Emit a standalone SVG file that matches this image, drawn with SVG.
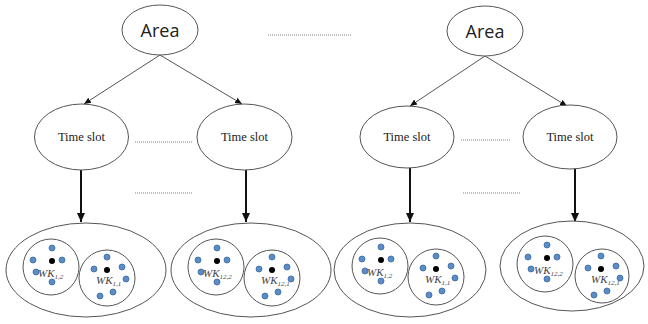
<svg xmlns="http://www.w3.org/2000/svg" width="648" height="324" viewBox="0 0 648 324">
<style>
.node{fill:#fff;stroke:#555;stroke-width:1}
.area{font-family:"Open Sans","Liberation Sans",sans-serif;font-size:18px;fill:#222;text-anchor:middle}
.ts{font-family:'Liberation Serif','DejaVu Serif',serif;font-size:12.5px;fill:#222;text-anchor:middle}
.thin{stroke:#555;stroke-width:1;fill:none}
.thick{stroke:#111;stroke-width:2;fill:none}
.dot{stroke:#666;stroke-width:0.8;stroke-dasharray:1 1;fill:none}
.b{fill:#5b8cc8;stroke:#3a6a9e;stroke-width:0.8}
.k{fill:#000}
.wk{font-family:'Liberation Serif','DejaVu Serif',serif;font-style:italic;font-weight:normal;font-size:11px;fill:#444}
.sub{font-size:7px}
</style>
<defs>
<marker id="ah" markerWidth="8" markerHeight="8" refX="7" refY="4" orient="auto" markerUnits="userSpaceOnUse"><path d="M0,1 L7,4 L0,7 Z" fill="#111"/></marker>
<marker id="ahk" markerWidth="10" markerHeight="10" refX="9" refY="5" orient="auto" markerUnits="userSpaceOnUse"><path d="M0,1 L9,5 L0,9 Z" fill="#111"/></marker>
<g id="cl1">
<circle class="b" cx="0" cy="-13" r="3"/><circle class="b" cx="10" cy="-1" r="3"/><circle class="b" cx="-19" cy="-1" r="3"/><circle class="b" cx="-16" cy="11" r="3"/><circle class="b" cx="0" cy="21" r="3"/><circle class="k" cx="0" cy="0" r="3"/>
</g>
<g id="cl2">
<circle class="b" cx="0" cy="-13" r="3"/><circle class="b" cx="-13" cy="-1" r="3"/><circle class="b" cx="15" cy="-3" r="3"/><circle class="b" cx="19" cy="9" r="3"/><circle class="b" cx="-7" cy="26" r="3"/><circle class="b" cx="6" cy="22" r="3"/><circle class="k" cx="0" cy="0" r="3"/>
</g>
</defs>
<g id="connectors">
<line class="thin" x1="160" y1="55" x2="84" y2="104" marker-end="url(#ah)"/>
<line class="thin" x1="160" y1="55" x2="242" y2="104" marker-end="url(#ah)"/>
<line class="thin" x1="485" y1="56" x2="410" y2="106" marker-end="url(#ah)"/>
<line class="thin" x1="485" y1="56" x2="567" y2="106" marker-end="url(#ah)"/>
<line class="thick" x1="81" y1="170" x2="81" y2="222" marker-end="url(#ahk)"/>
<line class="thick" x1="246" y1="170" x2="246" y2="222" marker-end="url(#ahk)"/>
<line class="thick" x1="410" y1="168" x2="410" y2="222" marker-end="url(#ahk)"/>
<line class="thick" x1="575" y1="169" x2="575" y2="222" marker-end="url(#ahk)"/>
<line class="dot" x1="268" y1="35" x2="352" y2="35"/>
<line class="dot" x1="135" y1="142" x2="192" y2="142"/>
<line class="dot" x1="135" y1="193" x2="192" y2="193"/>
<line class="dot" x1="461" y1="140" x2="510" y2="140"/>
<line class="dot" x1="463" y1="193" x2="520" y2="193"/>
</g>
<g id="area1"><ellipse class="node" cx="160" cy="30" rx="38" ry="25"/><text class="area" x="160" y="37">Area</text></g>
<g id="area2"><ellipse class="node" cx="485" cy="31" rx="38" ry="25"/><text class="area" x="485" y="38">Area</text></g>
<g id="ts1"><ellipse class="node" cx="81.5" cy="137" rx="47" ry="33"/><text class="ts" x="81.5" y="141">Time slot</text></g>
<g id="ts2"><ellipse class="node" cx="244.5" cy="137" rx="47.5" ry="33"/><text class="ts" x="244.5" y="141">Time slot</text></g>
<g id="ts3"><ellipse class="node" cx="407" cy="137" rx="47" ry="31"/><text class="ts" x="407" y="141">Time slot</text></g>
<g id="ts4"><ellipse class="node" cx="570" cy="137" rx="47" ry="32"/><text class="ts" x="570" y="141">Time slot</text></g>
<g id="cluster1">
<ellipse class="node" cx="86" cy="270" rx="80" ry="47"/>
<circle class="node" cx="51" cy="267" r="28"/><circle class="node" cx="107" cy="278" r="28"/>
<use href="#cl1" x="52" y="261"/><use href="#cl2" x="107" y="270"/>
<text class="wk" x="38" y="277">WK<tspan class="sub" dy="2">1,2</tspan></text>
<text class="wk" x="96" y="284">WK<tspan class="sub" dy="2">1,1</tspan></text>
</g>
<g id="cluster2">
<ellipse class="node" cx="251" cy="270" rx="80" ry="47"/>
<circle class="node" cx="216" cy="267" r="28"/><circle class="node" cx="272" cy="278" r="28"/>
<use href="#cl1" x="217" y="261"/><use href="#cl2" x="272" y="270"/>
<text class="wk" x="203" y="277">WK<tspan class="sub" dy="2">12,2</tspan></text>
<text class="wk" x="261" y="284">WK<tspan class="sub" dy="2">12,1</tspan></text>
</g>
<g id="cluster3">
<ellipse class="node" cx="410" cy="270" rx="76" ry="47"/>
<circle class="node" cx="380" cy="266" r="28"/><circle class="node" cx="436" cy="277" r="28"/>
<use href="#cl1" x="381" y="260"/><use href="#cl2" x="436" y="269"/>
<text class="wk" x="367" y="276">WK<tspan class="sub" dy="2">1,2</tspan></text>
<text class="wk" x="425" y="283">WK<tspan class="sub" dy="2">1,1</tspan></text>
</g>
<g id="cluster4">
<ellipse class="node" cx="572" cy="266" rx="72" ry="45"/>
<circle class="node" cx="545" cy="264" r="28"/><circle class="node" cx="602" cy="276" r="27"/>
<use href="#cl1" x="547" y="258"/><use href="#cl2" x="601" y="269"/>
<text class="wk" x="534" y="274">WK<tspan class="sub" dy="2">12,2</tspan></text>
<text class="wk" x="591" y="283">WK<tspan class="sub" dy="2">12,1</tspan></text>
</g>
</svg>
